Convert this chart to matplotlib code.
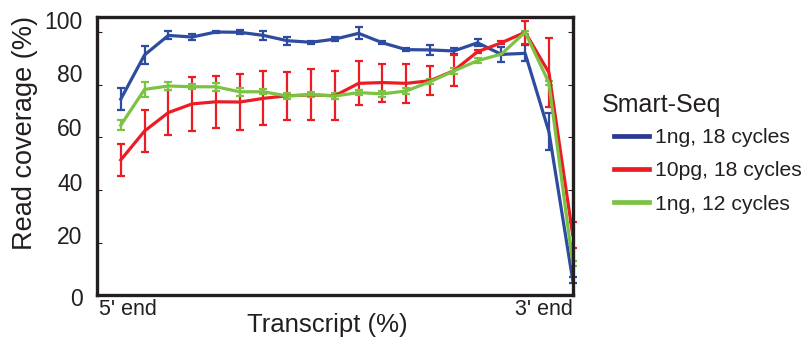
import matplotlib
matplotlib.use("Agg")
import matplotlib.pyplot as plt
import matplotlib.transforms as mtransforms
import numpy as np

plt.rcParams['font.family'] = ['Liberation Sans', 'DejaVu Sans']

# position along transcript (%), 5' -> 3'
position = [5, 10, 15, 20, 25, 30, 35, 40, 45, 50,
            55, 60, 65, 70, 75, 80, 85, 90, 95, 100]

ng1_18 = [74.5, 91.3, 98.7, 98.1, 100.0, 99.9, 98.7, 96.7, 96.1, 97.3,
          99.5, 95.9, 93.3, 93.2, 92.8, 95.9, 91.5, 91.9, 62.1, 5.8]
ng1_18_err = [4.2, 3.3, 1.5, 1.0, 0.5, 0.7, 1.8, 1.5, 0.5, 0.7,
              2.3, 0.5, 0.5, 1.8, 1.3, 1.4, 2.9, 3.0, 7.1, 1.0]

pg10_18 = [51.4, 62.4, 69.4, 72.7, 73.5, 73.4, 74.8, 75.8, 76.1, 75.8,
           80.5, 80.8, 80.5, 81.5, 85.3, 92.5, 95.9, 99.9, 84.6, 23.0]
pg10_18_err = [6.1, 8.1, 8.4, 10.3, 9.9, 10.8, 10.3, 9.1, 9.7, 9.3,
               8.4, 7.2, 7.4, 5.5, 5.8, 0.5, 0.5, 4.3, 13.1, 5.0]

ng1_12 = [64.6, 78.2, 79.5, 79.2, 79.2, 77.3, 77.3, 75.7, 76.2, 75.7,
          77.0, 76.5, 77.6, 81.1, 85.2, 89.1, 91.6, 99.9, 80.7, 12.2]
ng1_12_err = [2.0, 2.8, 1.7, 1.0, 1.5, 1.5, 1.0, 1.0, 1.0, 1.0,
              1.0, 1.2, 1.2, 1.0, 1.0, 1.0, 0.5, 0.5, 0.7, 1.0]

series_labels = ['1ng, 18 cycles', '10pg, 18 cycles', '1ng, 12 cycles']
series_colors = ['#2d4b9f', '#ec1c24', '#7cc243']
legend_colors = ['#2b3990', '#ec1c24', '#7cc243']

ytick_values = [0, 20, 40, 60, 80, 100]
# labels sit a little above their ticks (pixels)
ytick_nudge_px = [-1.7, 7.7, 8.3, 10.6, 11.4, 12.0]

ink = '#231f20'

fig = plt.figure(figsize=(8.03, 3.54), dpi=100)
ax = fig.add_axes([97 / 803, 1 - 295.3 / 354, (572.7 - 97) / 803, (295.3 - 17) / 354])

all_y = [ng1_18, pg10_18, ng1_12]
all_err = [ng1_18_err, pg10_18_err, ng1_12_err]
for y, err, col in zip(all_y, all_err, series_colors):
    ax.errorbar(position, y, yerr=err, color=col, lw=2.3, elinewidth=1.6,
                capsize=3.2, capthick=1.6, clip_on=False)

ax.set_xlim(0, 100)
ax.set_ylim(0, 105.7)

for side in ax.spines.values():
    side.set_linewidth(2.4)
    side.set_color(ink)

ax.set_xticks([])
ax.set_yticks(ytick_values)
ax.set_yticklabels([str(v) for v in ytick_values])
ax.tick_params(axis='y', direction='in', length=3.5, width=0.8, color=ink,
               right=True, labelsize=16.5, labelcolor=ink, pad=10.5)

for lab, dy in zip(ax.get_yticklabels(), ytick_nudge_px):
    shift = mtransforms.ScaledTranslation(0, dy / 100, fig.dpi_scale_trans)
    lab.set_transform(lab.get_transform() + shift)

ax.text(0.004, -0.015, "5' end", transform=ax.transAxes, ha='left', va='top',
        fontsize=15.5, color=ink)
ax.text(1.0, -0.015, "3' end", transform=ax.transAxes, ha='right', va='top',
        fontsize=15.5, color=ink)

fig.text(327.5 / 803, 1 - 325 / 354, 'Transcript (%)', ha='center', va='center',
         fontsize=18.5, color=ink)
fig.text(25 / 803, 1 - 132.5 / 354, 'Read coverage (%)', ha='center', va='center',
         rotation=90, fontsize=19.5, color=ink)

fig.text(601.7 / 803, 1 - 105 / 354, 'Smart-Seq', ha='left', va='center',
         fontsize=18, color=ink)

handles = [plt.Line2D([], [], color=c, lw=3.4) for c in legend_colors]
leg = fig.legend(handles, series_labels, loc='upper left',
                 bbox_to_anchor=(614 / 803, 1 - 128 / 354), frameon=False,
                 fontsize=15.2, handlelength=1.65, handletextpad=0.3,
                 labelspacing=0.68, borderpad=0, borderaxespad=0)
for t in leg.get_texts():
    t.set_color(ink)

fig.savefig('out.png', dpi=100)
